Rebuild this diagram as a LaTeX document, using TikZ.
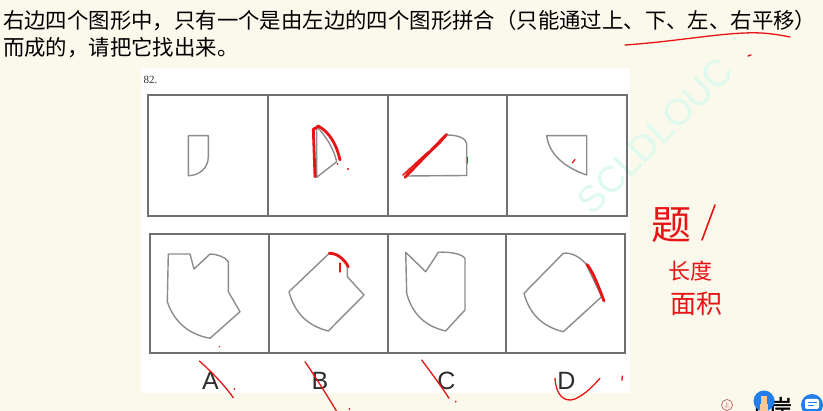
\documentclass[tikz,border=0pt]{standalone}
\usepackage{fontspec}
\setmainfont{Liberation Serif}
\newfontfamily\cjk{Noto Sans CJK SC}
\newfontfamily\cjkb[FakeBold=2]{Noto Sans CJK SC}
\newfontfamily\lab{Liberation Sans}
\definecolor{bgc}{RGB}{251,248,236}
\definecolor{boxc}{RGB}{112,112,112}
\definecolor{shpc}{RGB}{140,140,140}
\definecolor{pen}{RGB}{230,20,20}
\definecolor{wmc}{RGB}{222,250,238}
\definecolor{bluei}{RGB}{35,125,235}
\definecolor{labc}{RGB}{45,45,45}
\definecolor{stampc}{RGB}{200,90,90}
\definecolor{skin}{RGB}{248,200,150}
\begin{document}
\begin{tikzpicture}[x=1pt,y=-1pt,
  frame/.style={draw=boxc,line width=1.7pt},
  fig/.style={draw=shpc,line width=1.4pt,line join=round},
  redpen/.style={draw=pen,line width=1.3pt,line cap=round,line join=round},
  thickpen/.style={redpen,line width=2.8pt},
  optlab/.style={font=\lab\fontsize{25}{25}\selectfont,text=labc,inner sep=0pt},
  hand/.style={text=pen,inner sep=0pt}]
\useasboundingbox (0,0) rectangle (823,411);
\fill[bgc] (0,0) rectangle (823,411);
\fill[white] (141,68) rectangle (630,393);
% watermark
\node[rotate=45,text=wmc,font=\lab\fontsize{37}{37}\selectfont,inner sep=0pt] (wm) at (655,136) {SCLDLOUC};
% question text
\node[anchor=west,inner sep=0pt,font=\cjk\fontsize{21.4}{24}\selectfont] (q1) at (3,20) {右边四个图形中，只有一个是由左边的四个图形拼合（只能通过上、下、左、右平移）};
\node[anchor=west,inner sep=0pt,font=\cjk\fontsize{21.4}{24}\selectfont] (q2) at (3,48) {而成的，请把它找出来。};
\node[inner sep=0pt,font=\fontsize{11}{11}\selectfont,text=labc] (num) at (150.5,80) {82.};
% frames
\draw[frame] (148,95) rectangle (627,216);
\draw[frame] (268,95) -- (268,216);
\draw[frame] (388,95) -- (388,216);
\draw[frame] (507,95) -- (507,216);
\draw[frame] (150,234) rectangle (625,353);
\draw[frame] (269,234) -- (269,353);
\draw[frame] (388,234) -- (388,353);
\draw[frame] (506,234) -- (506,353);
% top figures
\draw[fig] (188.3,135.7) -- (208.3,135.7) -- (208.3,157) .. controls (208.3,168) and (199,175.7) .. (188.3,175.7) -- cycle;
\draw[fig] (316.7,126.7) .. controls (327,137) and (334,150) .. (336.7,161.7) -- (316.7,177.3) -- cycle;
\draw[fig] (405.7,176) -- (446.7,135) .. controls (458,135) and (466.7,138) .. (466.7,145) -- (466.7,175.5) -- cycle;
\draw[fig] (546.7,135.7) -- (586.7,135.7) -- (586.7,175) .. controls (566,168) and (549,155) .. cycle;
% bottom options
\draw[fig] (168.3,254) -- (190,254) -- (194,269) -- (210,254) .. controls (217,254) and (225,257) .. (228.3,261.7) -- (228.3,291.7) -- (240,311.7) -- (210,338.3) .. controls (188.8,334.4) and (174.3,322.2) .. (167.3,301.7) -- cycle;
\draw[fig] (329.3,253.3) .. controls (337,253) and (344,259) .. (347.3,265.7) -- (347.3,276.7) -- (364,295) -- (328.3,331) .. controls (307.4,325.7) and (294.3,312.6) .. (289,291.7) -- cycle;
\draw[fig] (405.7,252.3) -- (425.7,271.7) -- (438.3,252.3) .. controls (450,251.5) and (462,254) .. (465,258.3) -- (465,310) -- (445.7,331) .. controls (425.1,326.3) and (412.1,313.8) .. (406.7,293.3) -- cycle;
\draw[fig] (563.3,253.3) .. controls (572,252) and (581,258) .. (586,264) -- (601.7,296.7) -- (563.3,331.7) .. controls (542.5,326.7) and (529.4,313.9) .. (524,293.3) -- cycle;
% labels
\node[optlab] (la) at (210.5,381) {A};
\node[optlab] (lb) at (320,381) {B};
\node[optlab] (lc) at (446.5,381) {C};
\node[optlab] (ld) at (566.5,381) {D};
% red annotations
\draw[redpen] (625,45) .. controls (670,42) and (715,34) .. (745,33) .. controls (765,32) and (780,35) .. (790,37);
\draw[redpen] (748,56) -- (751,55);
\draw[thickpen] (315,176.7) -- (313.3,129.3) -- (319,126);
\draw[thickpen] (318,126) .. controls (330,132) and (337,146) .. (340,160);
\fill[pen] (337.5,164) circle (1);
\fill[pen] (348,169) circle (1.2);
\draw[thickpen] (405,177.3) -- (446.7,134.3);
\draw[redpen,line width=1.5pt] (407,174) -- (440,143) -- (446,136);
\draw[redpen,line width=1.5pt] (403,175) -- (428,152);
\draw[redpen] (467.7,157.5) -- (467.7,163);
\draw[redpen] (572.3,163) -- (575,159.5);
\draw[thickpen] (329.3,253.3) .. controls (337,253) and (344,259) .. (348.3,266.7);
\draw[redpen] (340,263) -- (340,272);
\draw[thickpen] (587,264.5) .. controls (593,272) and (598,285) .. (604,301);
\fill[pen] (219.3,346.7) circle (0.8);
\draw[redpen] (199.3,361) .. controls (212,372) and (225,386) .. (233.3,397.7);
\fill[pen] (234.3,389) circle (1);
\draw[redpen] (305,361.7) .. controls (316,378) and (327,395) .. (337,412);
\fill[pen] (349.3,409) circle (1);
\draw[redpen] (421.7,360) .. controls (432,374) and (442,387) .. (449,398.3);
\fill[pen] (455.7,401.7) circle (1);
\draw[redpen] (555,378.3) .. controls (556,395) and (564,403) .. (575,399) .. controls (586,394) and (594,385) .. (600,378.3);
\draw[redpen] (622.3,376) -- (622,380.5);
% handwriting
\node[hand,font=\cjk\fontsize{40}{40}\selectfont,anchor=west] (h1) at (651,225) {题};
\draw[redpen,line width=1.6pt] (715,205) -- (702,240);
\node[hand,font=\cjk\fontsize{22}{22}\selectfont] (h2) at (690,271) {长度};
\node[hand,font=\cjk\fontsize{26}{26}\selectfont] (h3) at (696,304) {面积};
% bottom-right icons
\draw[draw=stampc,line width=0.7pt] (727,405) circle (5.5);
\node[inner sep=0pt,text=stampc,font=\cjk\fontsize{6}{6}\selectfont] (stamp) at (727,405) {上};
\node[anchor=north west,inner sep=0pt,font=\cjkb\fontsize{23}{23}\selectfont] (brand) at (746,397) {上岸};
\fill[bluei] (764,401) circle (10.5);
\fill[skin] (760,404) rectangle (768,412);
\fill[skin] (761,396) rectangle (767,405);
\fill[bluei] (812,405) circle (11);
\fill[white,rounded corners=2pt] (805,399) rectangle (819,409);
\draw[bluei,line width=0.8pt] (807.5,402.5) -- (816.5,402.5) (807.5,405.5) -- (814,405.5);
\end{tikzpicture}
\end{document}
